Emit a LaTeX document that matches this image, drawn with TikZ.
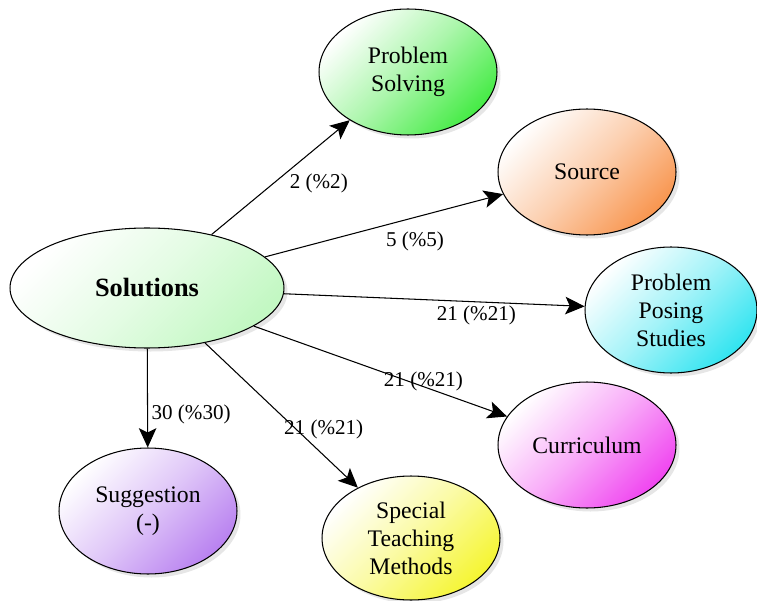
\documentclass[tikz,border=0pt]{standalone}
\usepackage{fontspec}
\setmainfont{Liberation Serif}
\usetikzlibrary{shapes.geometric,arrows.meta,shadows}
\definecolor{solcolour}{RGB}{195,248,195}
\definecolor{pscolour}{RGB}{70,235,70}
\definecolor{srccolour}{RGB}{248,150,80}
\definecolor{ppscolour}{RGB}{50,228,240}
\definecolor{curcolour}{RGB}{240,70,240}
\definecolor{stmcolour}{RGB}{245,245,50}
\definecolor{sugcolour}{RGB}{185,130,240}

\begin{document}
\begin{tikzpicture}[
        x=0.02cm, y=-0.02cm,
        topic/.style={
            draw,
            ellipse,
            line width=0.6pt,
            align=center,
            inner sep=0pt,
            font=\fontsize{13.5}{16}\selectfont,
            minimum width=3.56cm,
            minimum height=2.52cm,
            drop shadow={shadow xshift=2pt, shadow yshift=-2pt, opacity=0.2}
        },
        tint/.style={top color=white, bottom color=#1, middle color=#1!45, shading angle=45},
        count/.style={font=\fontsize{12}{14}\selectfont, inner sep=1pt},
        link/.style={-{Stealth[length=11pt, width=10pt, inset=2.5pt]}, line width=0.6pt}
    ]
        \useasboundingbox (0,0) rectangle (757,601);

        \node (sol) [topic, tint=solcolour, minimum width=5.48cm, minimum height=2.4cm,
            font=\fontsize{15}{17}\selectfont\bfseries] at (147,288) {Solutions};

        \node (ps) [topic, tint=pscolour] at (408,72) {Problem\\Solving};
        \node (src) [topic, tint=srccolour] at (587,172) {Source};
        \node (pps) [topic, tint=ppscolour, minimum width=3.44cm] at (671,310) {Problem\\Posing\\Studies};
        \node (cur) [topic, tint=curcolour] at (587,445) {Curriculum};
        \node (stm) [topic, tint=stmcolour, minimum height=2.48cm] at (411,538) {Special\\Teaching\\Methods};
        \node (sug) [topic, tint=sugcolour] at (148,511) {Suggestion\\(-)};

        \draw[link] (sol) -- (ps) node[count, pos=0.55, anchor=north west] {2 (\%2)};
        \draw[link] (sol) -- (src) node[count, pos=0.63, below=7pt] {5 (\%5)};
        \draw[link] (sol) -- (pps) node[count, pos=0.64, below=1pt] {21 (\%21)};
        \draw[link] (sol) -- (cur) node[count, pos=0.67, yshift=3pt] {21 (\%21)};
        \draw[link] (sol) -- (stm) node[count, pos=0.6, xshift=0.54cm] {21 (\%21)};
        \draw[link] (sol) -- (sug) node[count, pos=0.67, right=1pt] {30 (\%30)};
    \end{tikzpicture}
\end{document}
